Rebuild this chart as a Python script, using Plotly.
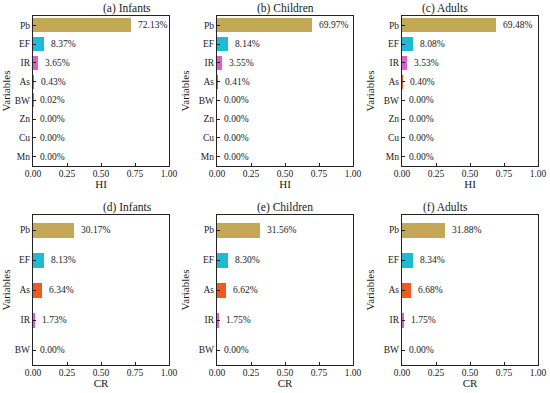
import plotly.graph_objects as go

hi_vars = ["Pb", "EF", "IR", "As", "BW", "Zn", "Cu", "Mn"]
hi_infants = [0.7213, 0.0837, 0.0365, 0.0043, 0.0002, 0.0, 0.0, 0.0]
hi_children = [0.6997, 0.0814, 0.0355, 0.0041, 0.0, 0.0, 0.0, 0.0]
hi_adults = [0.6948, 0.0808, 0.0353, 0.0040, 0.0, 0.0, 0.0, 0.0]

cr_vars = ["Pb", "EF", "As", "IR", "BW"]
cr_infants = [0.3017, 0.0813, 0.0634, 0.0173, 0.0]
cr_children = [0.3156, 0.0830, 0.0662, 0.0175, 0.0]
cr_adults = [0.3188, 0.0834, 0.0668, 0.0175, 0.0]

titles = ["(a) Infants", "(b) Children", "(c) Adults", "(d) Infants", "(e) Children", "(f) Adults"]
x_ticks = [0, 0.25, 0.5, 0.75, 1.0]
x_tick_labels = ["0.00", "0.25", "0.50", "0.75", "1.00"]

colors = {"Pb": "#C4A855", "EF": "#1FBBD5", "IR": "#DB62C4", "As": "#F05A22",
          "BW": "#888888", "Zn": "#888888", "Cu": "#888888", "Mn": "#888888"}

W, H = 550, 393
col_px = [(33, 169), (217, 353), (402, 538)]
row_px = [(16, 166), (215, 365)]

FONT = "Times New Roman, Liberation Serif, serif"
TXT = "#1a1a1a"
fig = go.Figure()

panels = [
    (hi_vars, hi_infants, "HI", 0.75), (hi_vars, hi_children, "HI", 0.75), (hi_vars, hi_adults, "HI", 0.75),
    (cr_vars, cr_infants, "CR", 0.5), (cr_vars, cr_children, "CR", 0.5), (cr_vars, cr_adults, "CR", 0.5),
]

annotations = []
for i, (cats, vals, xt, bw) in enumerate(panels):
    r, c = divmod(i, 3)
    n = i + 1
    xa = "x" if n == 1 else f"x{n}"
    ya = "y" if n == 1 else f"y{n}"
    fig.add_trace(go.Bar(
        x=vals, y=cats, orientation="h", width=bw,
        marker=dict(color=[colors[k] for k in cats], line=dict(width=0)),
        xaxis=xa, yaxis=ya, showlegend=False, hoverinfo="skip",
    ))
    for cat, v in zip(cats, vals):
        annotations.append(dict(
            x=v, y=cat, xref=xa, yref=ya, text=f"{v*100:.2f}%",
            showarrow=False, xanchor="left", xshift=5,
            font=dict(family=FONT, size=9.5, color=TXT),
        ))
    x0, x1 = col_px[c]
    t, b = row_px[r]
    xd = [x0 / W, x1 / W]
    yd = [1 - b / H, 1 - t / H]
    axis_common = dict(showline=True, linecolor="#222", linewidth=1.2, mirror=True,
                       ticks="inside", ticklen=3, tickcolor="#222", showgrid=False,
                       zeroline=False, automargin=False,
                       tickfont=dict(family=FONT, size=9.5, color=TXT))
    fig.update_layout(**{
        ("xaxis" if n == 1 else f"xaxis{n}"): dict(
            domain=xd, anchor=ya, range=[0, 1], tickvals=x_ticks, ticktext=x_tick_labels,
            ticklabelstandoff=-2,
            title=dict(text=xt, font=dict(family=FONT, size=11, color=TXT), standoff=2),
            **axis_common),
        ("yaxis" if n == 1 else f"yaxis{n}"): dict(
            domain=yd, anchor=xa, categoryorder="array", categoryarray=cats[::-1],
            range=[-0.5, len(cats) - 0.5],
            title=dict(text="Variables", font=dict(family=FONT, size=11, color=TXT), standoff=6),
            **axis_common),
    })
    annotations.append(dict(
        x=(xd[0] + xd[1]) / 2, y=yd[1], xref="paper", yref="paper", text=titles[i],
        showarrow=False, yanchor="bottom", yshift=-1,
        font=dict(family=FONT, size=11.5, color=TXT),
    ))

fig.update_layout(
    width=W, height=H, margin=dict(l=0, r=0, t=0, b=0),
    paper_bgcolor="white", plot_bgcolor="white",
    annotations=annotations, bargap=0,
)

fig.write_html("out.html", config={"displayModeBar": False},
               post_script="document.body.style.margin='0px';document.body.style.overflow='hidden';")
